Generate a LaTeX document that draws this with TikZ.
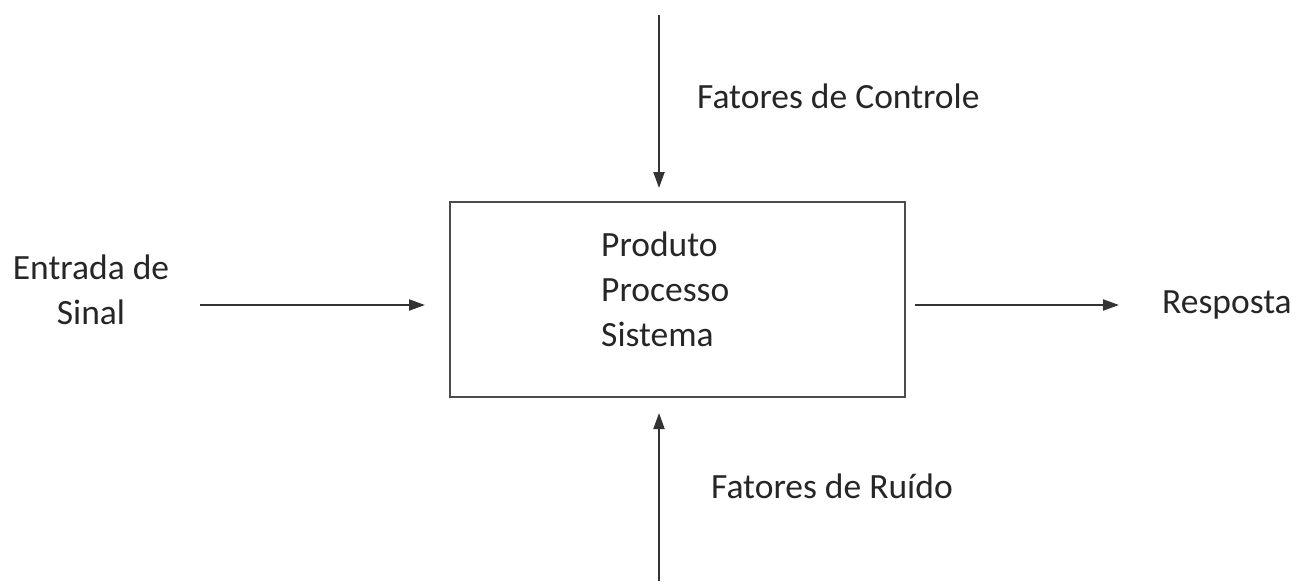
\documentclass[tikz,border=0pt]{standalone}
\usepackage{fontspec}
\setmainfont{Carlito}
\usetikzlibrary{arrows.meta}
\begin{document}
\begin{tikzpicture}[x=1pt,y=-1pt,
  lbl/.style={font=\fontsize{35.5}{45}\selectfont, text=black!85, inner sep=0pt},
  conn/.style={line width=2pt, draw=black!80, -{Triangle[length=16pt,width=11pt]}},
  boxst/.style={draw=black!70, line width=1.6pt, minimum width=455pt, minimum height=195pt, inner sep=0pt}]
\useasboundingbox (0,0) rectangle (1305,581);
\node[boxst] (box) at (677.5,299.5) {};
\node[lbl, align=left, anchor=west] (txt) at (601,289) {Produto\\Processo\\Sistema};
\coordinate (ctop) at (659,15);
\coordinate (cbot) at (659,581);
\coordinate (ttop) at (659,188);
\coordinate (tbot) at (659,413);
\coordinate (lstart) at (200,305);
\coordinate (lend) at (425,305);
\coordinate (rstart) at (915,305);
\coordinate (rend) at (1119,305);
\draw[conn] (ctop) -- (ttop);
\draw[conn] (cbot) -- (tbot);
\draw[conn] (lstart) -- (lend);
\draw[conn] (rstart) -- (rend);
\node[lbl, anchor=west] (ctl) at (697,96) {Fatores de Controle};
\node[lbl, anchor=west] (rui) at (711,486) {Fatores de Ruído};
\node[lbl, align=center] (ent) at (91,290) {Entrada de\\Sinal};
\node[lbl, anchor=west] (resp) at (1162,305) {Resposta};
\end{tikzpicture}
\end{document}
